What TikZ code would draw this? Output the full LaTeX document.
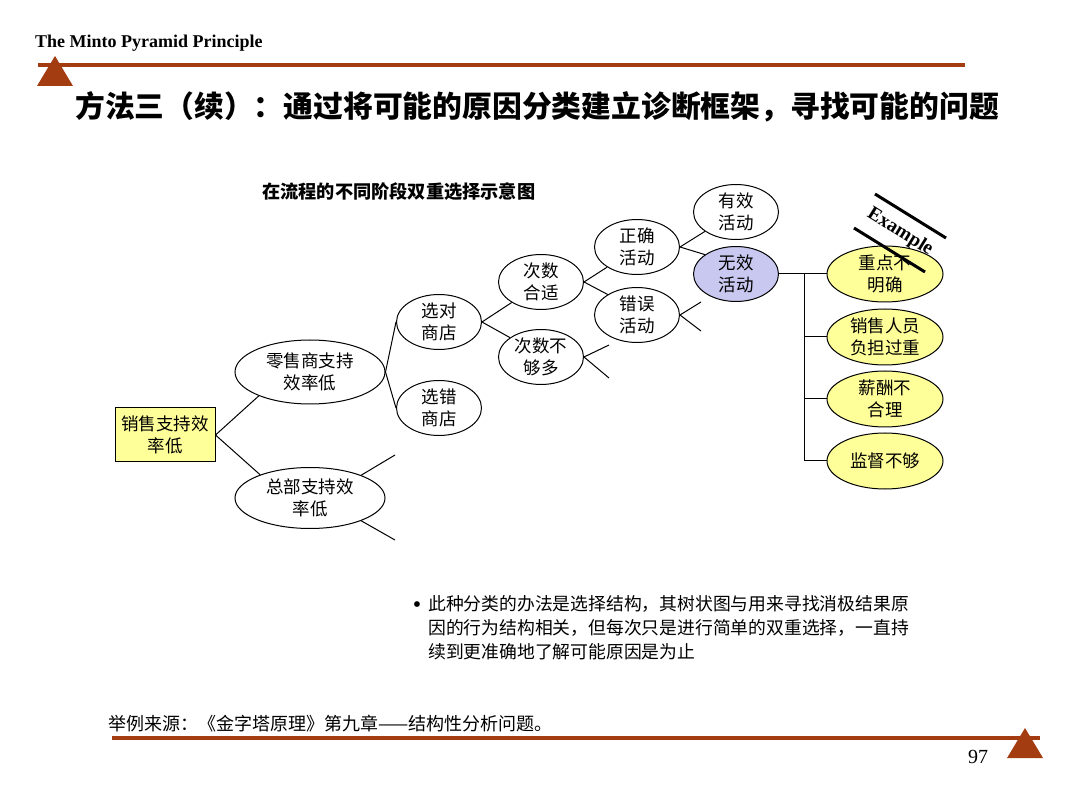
\documentclass[tikz,border=0pt]{standalone}
\usepackage{fontspec}
\setmainfont{Liberation Serif}
\newfontfamily\cjk{Noto Sans CJK SC}
\usetikzlibrary{shapes.geometric}
\definecolor{mintored}{RGB}{163,60,16}
\definecolor{nodeyellow}{RGB}{255,255,153}
\definecolor{lav}{RGB}{200,200,240}
\begin{document}
\begin{tikzpicture}[x=1pt,y=-1pt,
  ell/.style={draw, ellipse, inner sep=0pt, line width=1pt},
  smallell/.style={ell, minimum width=85pt, minimum height=55pt},
  yell/.style={ell, fill=nodeyellow, minimum width=116pt, minimum height=56pt},
  txt/.style={font=\cjk\fontsize{17.5}{22}\selectfont, align=center, inner sep=0pt},
  ln/.style={line width=1pt},
  rule/.style={line width=4pt, mintored},
  para/.style={font=\cjk\fontsize{17.8}{24}\selectfont, anchor=west, inner sep=0pt},
]
\useasboundingbox (0,0) rectangle (1080,810);

% header
\node[anchor=base west, font=\bfseries\fontsize{18}{20}\selectfont, inner sep=0pt] (hdr) at (35,48) {The Minto Pyramid Principle};
\draw[rule] (38,65) -- (965,65);
\fill[mintored] (55,56) -- (73,86) -- (37,86) -- cycle;
\node[anchor=west, font=\cjk\bfseries\fontsize{29.8}{32}\selectfont, inner sep=0pt] (title) at (75,107) {方法三（续）：通过将可能的原因分类建立诊断框架，寻找可能的问题};

% diagram title
\node[anchor=west, font=\cjk\bfseries\fontsize{18.2}{20}\selectfont, inner sep=0pt] (dtitle) at (262,192) {在流程的不同阶段双重选择示意图};

% nodes
\node[draw, fill=nodeyellow, minimum width=100pt, minimum height=54pt, inner sep=0pt, line width=1pt] (root) at (165,435) {};
\node[txt] at (root) {销售支持效\\率低};

\node[ell, minimum width=150pt, minimum height=64pt] (ls) at (310,372) {};
\node[txt] at (ls) {零售商支持\\效率低};
\node[ell, minimum width=150pt, minimum height=61pt] (zb) at (310,498) {};
\node[txt] at (zb) {总部支持效\\率低};

\node[smallell] (xd) at (439,322) {};
\node[txt] at (xd) {选对\\商店};
\node[smallell] (xc) at (439,408) {};
\node[txt] at (xc) {选错\\商店};

\node[smallell] (cs) at (541,282) {};
\node[txt] at (cs) {次数\\合适};
\node[smallell] (cb) at (541,357) {};
\node[txt] at (cb) {次数不\\够多};

\node[smallell] (zq) at (637,247) {};
\node[txt] at (zq) {正确\\活动};
\node[smallell] (cw) at (637,315) {};
\node[txt] at (cw) {错误\\活动};

\node[smallell] (yx) at (736,212) {};
\node[txt] at (yx) {有效\\活动};
\node[smallell, fill=lav] (wx) at (736,274) {};
\node[txt] at (wx) {无效\\活动};

\node[yell] (y1) at (885,274) {};
\node[txt] at (y1) {重点不\\明确};
\node[yell] (y2) at (885,337) {};
\node[txt] at (y2) {销售人员\\负担过重};
\node[yell] (y3) at (885,399) {};
\node[txt] at (y3) {薪酬不\\合理};
\node[yell] (y4) at (885,461) {};
\node[txt] at (y4) {监督不够};

% stub ends
\coordinate (s1) at (395,455);
\coordinate (s2) at (395,540);
\coordinate (s3) at (609,345);
\coordinate (s4) at (609,378);
\coordinate (s5) at (701,302);
\coordinate (s6) at (701,331);
\coordinate (bx) at (804,274);

% connectors
\draw[ln] (root.east) -- (ls.205);
\draw[ln] (root.east) -- (zb.155);
\draw[ln] (ls.east) -- (xd.west);
\draw[ln] (ls.east) -- (xc.west);
\draw[ln] (xd.east) -- (cs.215);
\draw[ln] (xd.east) -- (cb.148);
\draw[ln] (cs.east) -- (zq.214);
\draw[ln] (cs.east) -- (cw.145);
\draw[ln] (zq.east) -- (yx.212);
\draw[ln] (zq.east) -- (wx.148);
\draw[ln] (zb.24) -- (s1);
\draw[ln] (zb.-24) -- (s2);
\draw[ln] (cb.east) -- (s3);
\draw[ln] (cb.east) -- (s4);
\draw[ln] (cw.east) -- (s5);
\draw[ln] (cw.east) -- (s6);
\draw[ln] (wx.east) -- (y1.west);
\draw[ln] (bx) |- (y4.west);
\draw[ln] (bx |- y2.west) -- (y2.west);
\draw[ln] (bx |- y3.west) -- (y3.west);

% example stamp
\draw[line width=3pt] (875,194) -- (946,238);
\draw[line width=3pt] (854,228) -- (925,272);
\node[rotate=-32, font=\bfseries\fontsize{19.5}{20}\selectfont, inner sep=0pt] (ex) at (900,232) {Example};

% bullet text
\node[font=\fontsize{24}{24}\selectfont, inner sep=0pt] (bul) at (417,607) {•};
\node[para] (b1) at (428,604) {此种分类的办法是选择结构，其树状图与用来寻找消极结果原};
\node[para] (b2) at (428,628) {因的行为结构相关，但每次只是进行简单的双重选择，一直持};
\node[para] (b3) at (428,652) {续到更准确地了解可能原因是为止};

% footer
\node[anchor=west, font=\cjk\fontsize{18}{20}\selectfont, inner sep=0pt] (src) at (108,724) {举例来源：《金字塔原理》第九章——结构性分析问题。};
\draw[rule] (112,738) -- (1040,738);
\fill[mintored] (1025,728) -- (1043,758) -- (1007,758) -- cycle;
\node[font=\fontsize{20}{22}\selectfont, inner sep=0pt] (pg) at (978,757) {97};
\end{tikzpicture}
\end{document}
